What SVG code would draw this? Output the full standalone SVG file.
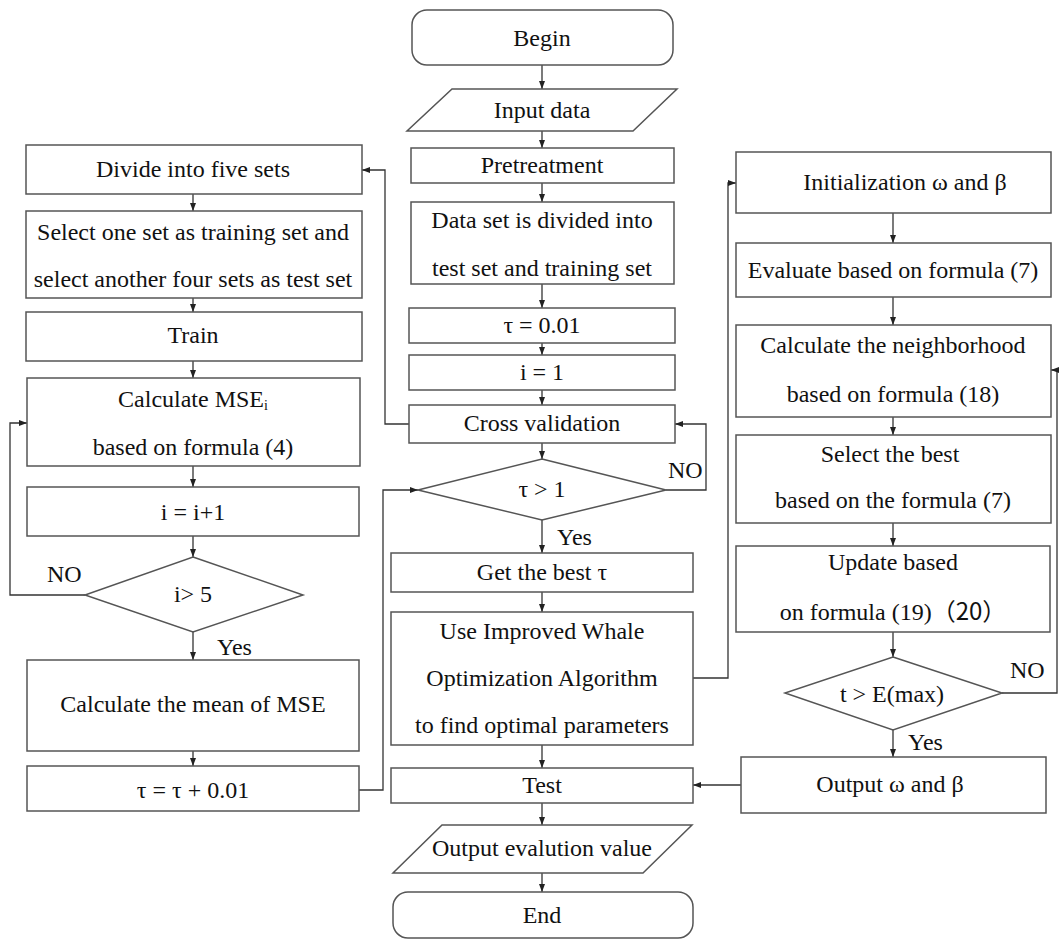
<svg xmlns="http://www.w3.org/2000/svg" width="1059" height="941" viewBox="0 0 1059 941">
<style>
.b{fill:#fff;stroke:#555;stroke-width:1.5}
.c{fill:none;stroke:#333;stroke-width:1.3}
text{font-family:'Liberation Serif','Times New Roman','DejaVu Serif',serif;font-size:24px;fill:#111;text-anchor:middle}
.s{text-anchor:start}
.cjk{font-family:'Noto Sans CJK SC',serif}
</style>
<defs>
<marker id="a" markerUnits="userSpaceOnUse" markerWidth="8" markerHeight="6" refX="8" refY="3" orient="auto">
<path d="M0,0 L8,3 L0,6 z" fill="#222"/>
</marker>
</defs>
<rect width="1059" height="941" fill="#fff"/>
<g id="connectors" marker-end="url(#a)">
<path class="c" d="M542,65V89"/>
<path class="c" d="M542,131V148"/>
<path class="c" d="M542,183V202"/>
<path class="c" d="M542,284V308"/>
<path class="c" d="M542,343V355"/>
<path class="c" d="M542,390V405"/>
<path class="c" d="M542,443V459"/>
<path class="c" d="M542,520V553"/>
<path class="c" d="M542,592V612"/>
<path class="c" d="M542,745V768"/>
<path class="c" d="M542,803V825"/>
<path class="c" d="M542,873V892"/>
<path class="c" d="M409,424H385V170H362"/>
<path class="c" d="M666,490H706V424H675"/>
<path class="c" d="M359,790H383V490H418"/>
<path class="c" d="M693,678H728V183H736"/>
<path class="c" d="M741,785H693"/>
<path class="c" d="M1002,693H1057V370H1051"/>
<path class="c" d="M193,194V211"/>
<path class="c" d="M193,298V312"/>
<path class="c" d="M193,361V378"/>
<path class="c" d="M193,466V487"/>
<path class="c" d="M193,536V557"/>
<path class="c" d="M193,632V660"/>
<path class="c" d="M193,751V766"/>
<path class="c" d="M85,595H10V423H27"/>
<path class="c" d="M893,213V243"/>
<path class="c" d="M893,297V325"/>
<path class="c" d="M893,417V435"/>
<path class="c" d="M893,523V546"/>
<path class="c" d="M893,632V657"/>
<path class="c" d="M893,730V757"/>
</g>
<g id="begin"><rect class="b" x="412" y="10" width="261" height="55" rx="15"/><text x="542" y="46">Begin</text></g>
<g id="input"><path class="b" d="M452,89H677L633,131H407Z"/><text x="542" y="118">Input data</text></g>
<g id="pretreatment"><rect class="b" x="411" y="148" width="263" height="35"/><text x="542" y="173">Pretreatment</text></g>
<g id="divide-data"><rect class="b" x="411" y="202" width="263" height="82"/><text x="542" y="228">Data set is divided into</text><text x="542" y="276">test set and training set</text></g>
<g id="tau-init"><rect class="b" x="409" y="308" width="266" height="35"/><text x="542" y="333">τ = 0.01</text></g>
<g id="i-init"><rect class="b" x="409" y="355" width="266" height="35"/><text x="542" y="380">i = 1</text></g>
<g id="cross-validation"><rect class="b" x="409" y="405" width="266" height="38"/><text x="542" y="431">Cross validation</text></g>
<g id="tau-check"><path class="b" d="M542,459L666,490L542,520L418,490Z"/><text x="542" y="497">τ &gt; 1</text><text class="s" x="668" y="478">NO</text><text class="s" x="557" y="545">Yes</text></g>
<g id="best-tau"><rect class="b" x="391" y="553" width="302" height="39"/><text x="542" y="580">Get the best τ</text></g>
<g id="iwoa"><rect class="b" x="391" y="612" width="302" height="133"/><text x="542" y="639">Use Improved Whale</text><text x="542" y="686">Optimization Algorithm</text><text x="542" y="733">to find optimal parameters</text></g>
<g id="test"><rect class="b" x="391" y="768" width="302" height="35"/><text x="542" y="793">Test</text></g>
<g id="output-eval"><path class="b" d="M442,825H692L643,873H393Z"/><text x="542" y="856">Output evalution value</text></g>
<g id="end"><rect class="b" x="393" y="892" width="300" height="46" rx="15"/><text x="542" y="923">End</text></g>
<g id="five-sets"><rect class="b" x="26" y="145" width="336" height="49"/><text x="193" y="177">Divide into five sets</text></g>
<g id="select-sets"><rect class="b" x="26" y="211" width="336" height="87"/><text x="193" y="240">Select one set as training set and</text><text x="193" y="287">select another four sets as test set</text></g>
<g id="train"><rect class="b" x="26" y="312" width="336" height="49"/><text x="193" y="343">Train</text></g>
<g id="calc-mse"><rect class="b" x="27" y="378" width="333" height="88"/><text x="193" y="407">Calculate MSE<tspan font-size="14" dy="3">i</tspan></text><text x="193" y="455">based on formula (4)</text></g>
<g id="i-inc"><rect class="b" x="27" y="487" width="332" height="49"/><text x="193" y="520">i = i+1</text></g>
<g id="i-check"><path class="b" d="M193,557L303,595L193,632L85,595Z"/><text x="193" y="602">i&gt; 5</text><text class="s" x="47" y="582">NO</text><text class="s" x="217" y="655">Yes</text></g>
<g id="mean-mse"><rect class="b" x="27" y="660" width="332" height="91"/><text x="193" y="712">Calculate the mean of MSE</text></g>
<g id="tau-inc"><rect class="b" x="27" y="766" width="332" height="45"/><text x="193" y="798">τ = τ + 0.01</text></g>
<g id="init-wb"><rect class="b" x="736" y="152" width="315" height="61"/><text x="905" y="190">Initialization ω and β</text></g>
<g id="evaluate"><rect class="b" x="736" y="243" width="315" height="54"/><text x="893" y="278">Evaluate based on formula (7)</text></g>
<g id="neighborhood"><rect class="b" x="736" y="325" width="315" height="92"/><text x="893" y="353">Calculate the neighborhood</text><text x="893" y="402">based on formula (18)</text></g>
<g id="select-best"><rect class="b" x="736" y="435" width="315" height="88"/><text x="890" y="462">Select the best</text><text x="893" y="508">based on the formula (7)</text></g>
<g id="update"><rect class="b" x="736" y="546" width="314" height="86"/><text x="893" y="570">Update based</text><text x="893" y="620">on formula (19)<tspan class="cjk">（20）</tspan></text></g>
<g id="t-check"><path class="b" d="M893,657L1002,693L893,730L785,693Z"/><text x="892" y="702">t &gt; E(max)</text><text class="s" x="1010" y="678">NO</text><text class="s" x="908" y="750">Yes</text></g>
<g id="output-wb"><rect class="b" x="741" y="757" width="305" height="56"/><text x="890" y="792">Output ω and β</text></g>
</svg>
